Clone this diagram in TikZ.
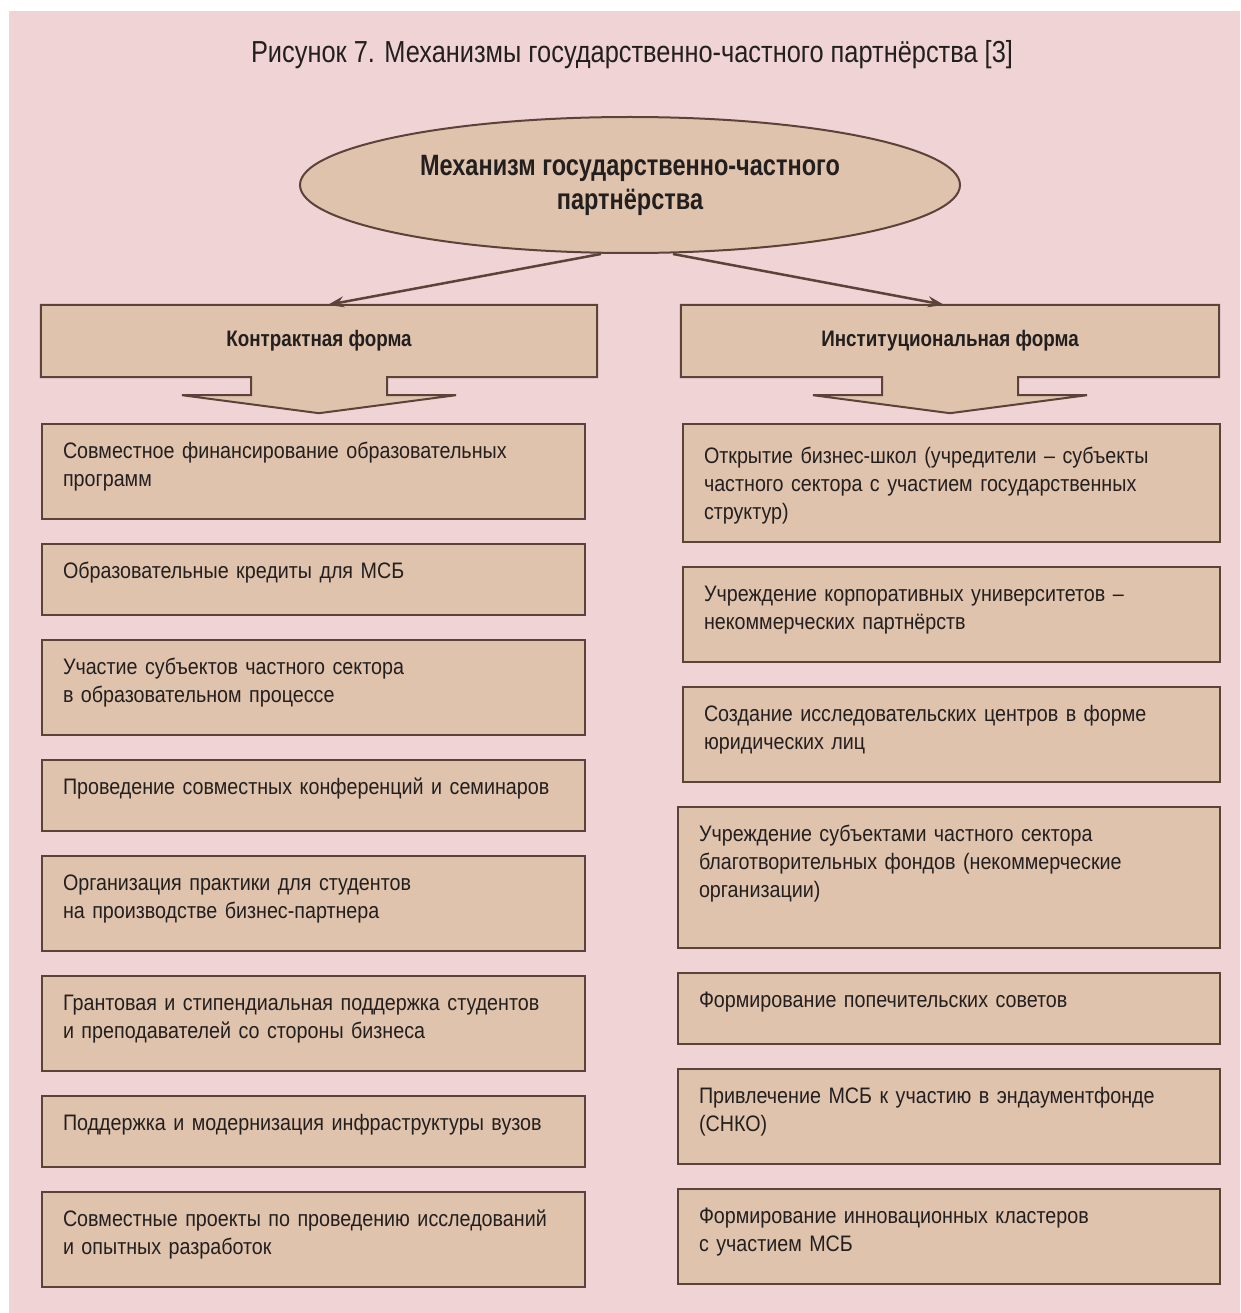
\documentclass[tikz,border=0pt]{standalone}
\usepackage{fontspec}
\setmainfont{Liberation Sans}[FakeStretch=0.88]
\newfontfamily\headfont{Liberation Sans}[FakeStretch=0.8]
\newfontfamily\formfont{Liberation Sans}[FakeStretch=0.84]
\newfontfamily\captionfont{Liberation Sans}[FakeStretch=0.835]
\usetikzlibrary{shapes.geometric,positioning,calc,arrows.meta,backgrounds}
\definecolor{pagepink}{HTML}{F0D3D4}
\definecolor{boxtan}{HTML}{E0C3AD}
\definecolor{edgebrown}{HTML}{5B4339}
\definecolor{inkdark}{HTML}{231F1F}
\newcommand{\itemfont}{\fontsize{22.4}{28}\selectfont}
\tikzset{
    item/.style={draw=edgebrown, fill=boxtan, line width=2pt, anchor=north west,
        inner xsep=21pt, inner ysep=0pt, align=left, text height=34pt,
        text=inkdark, font=\itemfont},
    leftitem/.style={item, text width=501pt},
    rightitem/.style={item, text width=495pt},
    widerightitem/.style={item, text width=500pt},
    oneline/.style={text depth=37pt},
    twoline/.style={text depth=61pt},
    formbox/.style={draw=edgebrown, fill=boxtan, line width=2pt, line join=miter},
    formtext/.style={minimum height=72pt, inner sep=0pt, text=inkdark,
        font=\formfont\bfseries\itemfont},
    link/.style={draw=edgebrown, line width=2.5pt, -{Stealth[length=16pt,width=11pt]}},
}

\begin{document}
\begin{tikzpicture}[x=1pt, y=-1pt]
    \useasboundingbox (0,0) rectangle (1240,1313);
    \begin{scope}[on background layer]
        \fill[white] (0,0) rectangle (1240,1313);
        \fill[pagepink] (9,11) rectangle (1240,1313);
    \end{scope}

    \node[font=\captionfont\fontsize{30.4}{36}\selectfont, text=inkdark] (title) at (632,55)
        {Рисунок 7. Механизмы государственно-частного партнёрства [3]};

    \node[ellipse, draw=edgebrown, fill=boxtan, line width=2pt, minimum width=660pt,
        minimum height=136pt, inner sep=0pt, align=center, text=inkdark,
        font=\headfont\bfseries\fontsize{29.4}{34}\selectfont] (mech) at (630,185)
        {Механизм государственно-частного\\партнёрства};

    % the two forms with their broad arrows
    \node[formtext, minimum width=556pt] (contr) at (319,341) {Контрактная форма};
    \node[formtext, minimum width=538pt] (inst) at (950,341) {Институциональная форма};
    \begin{scope}[on background layer]
        \foreach \f in {contr,inst} {
            \draw[formbox] (\f.north west) -- (\f.north east) -- (\f.south east)
                -- ($(\f.south)+(68,0)$) -- ++(0,18) -- ($(\f.south)+(137,18)$)
                -- ($(\f.south)+(0,36)$) -- ($(\f.south)+(-137,18)$)
                -- ($(\f.south)+(-68,18)$) -- ($(\f.south)+(-68,0)$)
                -- (\f.south west) -- cycle;
        }
    \end{scope}
    \draw[link] ($(mech.south)+(-29,0)$) -- ($(contr.north)+(9,0)$);
    \draw[link] ($(mech.south)+(43,0)$) -- ($(inst.north)+(-6,0)$);

    % contract form
    \node[leftitem, twoline] (c1) at (41,423) {Совместное финансирование образовательных\\программ};
    \node[leftitem, oneline, below=23pt of c1] (c2) {Образовательные кредиты для МСБ};
    \node[leftitem, twoline, below=23pt of c2] (c3) {Участие субъектов частного сектора\\в образовательном процессе};
    \node[leftitem, oneline, below=23pt of c3] (c4) {Проведение совместных конференций и семинаров};
    \node[leftitem, twoline, below=23pt of c4] (c5) {Организация практики для студентов\\на производстве бизнес-партнера};
    \node[leftitem, twoline, below=23pt of c5] (c6) {Грантовая и стипендиальная поддержка студентов\\и преподавателей со стороны бизнеса};
    \node[leftitem, oneline, below=23pt of c6] (c7) {Поддержка и модернизация инфраструктуры вузов};
    \node[leftitem, twoline, below=23pt of c7] (c8) {Совместные проекты по проведению исследований\\и опытных разработок};

    % institutional form
    \node[rightitem, text height=39pt, text depth=79pt] (i1) at (682,423)
        {Открытие бизнес-школ (учредители – субъекты\\частного сектора с участием государственных\\структур)};
    \node[rightitem, twoline, below=23pt of i1] (i2) {Учреждение корпоративных университетов –\\некоммерческих партнёрств};
    \node[rightitem, twoline, below=23pt of i2] (i3) {Создание исследовательских центров в форме\\юридических лиц};
    \node[widerightitem, text depth=107pt, below=23pt of i3.south east, anchor=north east] (i4)
        {Учреждение субъектами частного сектора\\благотворительных фондов (некоммерческие\\организации)};
    \node[widerightitem, oneline, below=23pt of i4] (i5) {Формирование попечительских советов};
    \node[widerightitem, twoline, below=23pt of i5] (i6) {Привлечение МСБ к участию в эндаументфонде\\(СНКО)};
    \node[widerightitem, twoline, below=23pt of i6] (i7) {Формирование инновационных кластеров\\с участием МСБ};
\end{tikzpicture}
\end{document}
